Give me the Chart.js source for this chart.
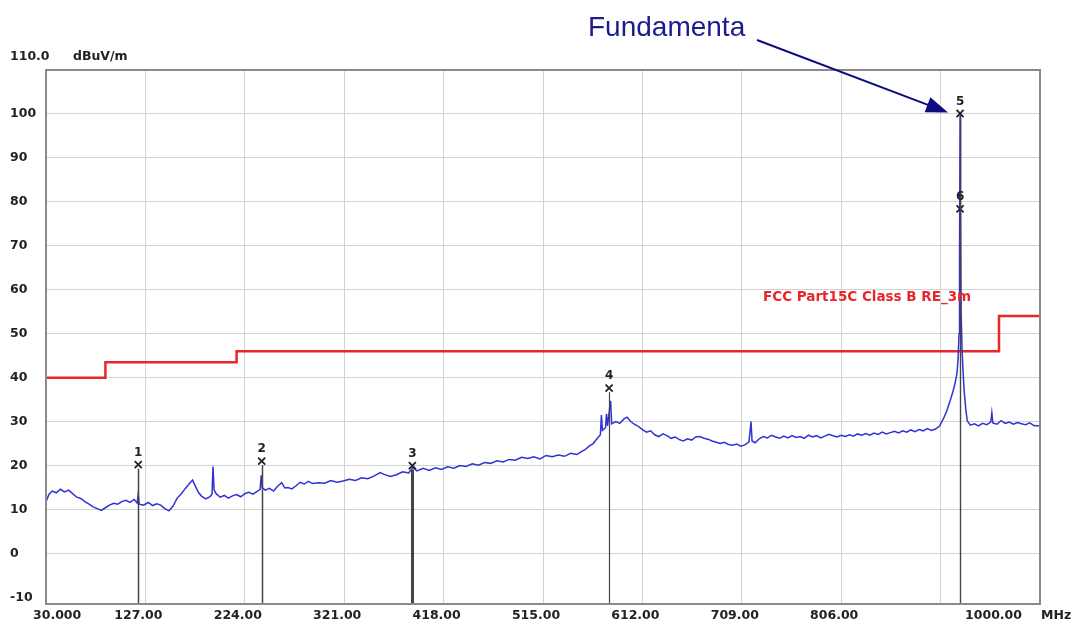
<!DOCTYPE html>
<html>
<head>
<meta charset="utf-8">
<script src="https://cdn.jsdelivr.net/npm/chart.js@4/dist/chart.umd.min.js"></script>
<style>
  html, body { margin: 0; padding: 0; background: #fff; }
  #wrap { width: 1073px; height: 621px; position: relative; }
</style>
</head>
<body>
<div id="wrap"><canvas id="emc"></canvas></div>
<script>
// frequentie-as en niveau-as
var xTicks = [30, 127, 224, 321, 418, 515, 612, 709, 806, 903, 1000];
var xTickLabels = ['30.000', '127.00', '224.00', '321.00', '418.00', '515.00', '612.00', '709.00', '806.00', '', '1000.00'];
var yTicks = [-10, 0, 10, 20, 30, 40, 50, 60, 70, 80, 90, 100];

// limietlijn FCC Part15C Class B
var limitFreq  = [30, 88, 88, 216, 216, 960, 960, 1000];
var limitLevel = [40, 40, 43.5, 43.5, 46, 46, 54, 54];

// gemeten spectrum (MHz / dBuV/m)
var traceFreq = [30, 33, 36, 40, 44, 48, 52, 56, 60, 64, 68, 72, 76, 80, 84, 88, 92, 96, 100, 104,
  108, 112, 116, 119, 120, 121, 125, 130, 134, 138, 142, 146, 150, 154, 158, 162, 166, 170, 173, 176,
  179, 182, 186, 190, 192, 193, 194, 196, 200, 204, 208, 212, 216, 220, 224, 228, 232, 236, 239, 240,
  241, 244, 248, 252, 256, 260, 263, 266, 270, 274, 278, 282, 286, 290, 296, 302, 308, 314, 320, 326,
  332, 338, 344, 350, 356, 360, 366, 372, 378, 384, 388, 392, 398, 404, 410, 416, 422, 428, 434, 440,
  446, 452, 458, 464, 470, 476, 482, 488, 494, 500, 506, 512, 518, 524, 530, 536, 542, 548, 552, 556,
  560, 564, 568, 571, 572, 573, 576, 577, 578, 580, 581, 582, 586, 590, 594, 597, 600, 604, 608, 612,
  616, 620, 624, 628, 632, 636, 640, 644, 648, 652, 656, 660, 664, 668, 672, 676, 680, 684, 688, 692,
  696, 700, 704, 708, 712, 716, 718, 719, 722, 726, 730, 734, 738, 742, 746, 750, 754, 758, 762, 766,
  770, 774, 778, 782, 786, 790, 794, 798, 802, 806, 810, 814, 818, 822, 826, 830, 834, 838, 842, 846,
  850, 854, 858, 862, 866, 870, 874, 878, 882, 886, 890, 894, 898, 902, 906, 909, 912, 915, 917, 919,
  920, 921, 921.5, 922, 922.5, 923, 924, 925, 926, 927.5, 929, 932, 936, 940, 944, 948, 952, 953, 954, 958,
  962, 966, 970, 974, 978, 982, 986, 990, 994, 1000];
var traceLevel = [11.8, 13.5, 14.2, 13.8, 14.6, 14.0, 14.4, 13.6, 12.8, 12.5, 11.8, 11.2, 10.6, 10.2, 9.8, 10.4, 11.0, 11.4, 11.2, 11.8,
  12.1, 11.6, 12.3, 11.5, 13.5, 11.2, 11.0, 11.6, 10.9, 11.3, 11.0, 10.2, 9.7, 10.8, 12.6, 13.6, 14.8, 15.9, 16.7, 15.2,
  13.8, 13.0, 12.4, 12.9, 13.5, 19.8, 14.5, 13.6, 12.8, 13.2, 12.6, 13.1, 13.4, 12.9, 13.6, 13.9, 13.5, 14.1, 14.6, 17.8,
  15.0, 14.4, 14.8, 14.2, 15.3, 16.1, 14.9, 15.0, 14.7, 15.4, 16.2, 15.8, 16.4, 15.9, 16.1, 16.0, 16.6, 16.2, 16.5, 16.9,
  16.6, 17.2, 17.0, 17.6, 18.4, 18.0, 17.5, 17.9, 18.6, 18.3, 19.6, 18.8, 19.4, 18.9, 19.5, 19.1, 19.7, 19.4, 20.0, 19.8,
  20.4, 20.1, 20.7, 20.5, 21.1, 20.8, 21.4, 21.2, 21.9, 21.6, 22.0, 21.5, 22.3, 22.0, 22.4, 22.1, 22.8, 22.5, 23.1, 23.6,
  24.4, 25.0, 26.2, 27.0, 31.5, 28.0, 28.6, 31.8, 29.0, 33.0, 34.7, 29.5, 30.0, 29.6, 30.6, 31.0, 30.2, 29.4, 28.9, 28.2,
  27.6, 27.9, 27.0, 26.6, 27.2, 26.8, 26.2, 26.5, 25.9, 25.6, 26.1, 25.8, 26.5, 26.6, 26.2, 26.0, 25.6, 25.3, 25.0, 25.3,
  24.8, 24.6, 24.9, 24.4, 24.7, 25.4, 30.0, 25.6, 25.2, 26.1, 26.6, 26.3, 26.9, 26.5, 26.2, 26.7, 26.3, 26.8, 26.4, 26.6,
  26.2, 26.9, 26.5, 26.8, 26.3, 26.7, 27.1, 26.8, 26.5, 26.9, 26.6, 27.0, 26.7, 27.2, 26.9, 27.3, 26.9, 27.4, 27.1, 27.6,
  27.2, 27.5, 27.8, 27.4, 27.9, 27.6, 28.1, 27.7, 28.2, 27.9, 28.4, 28.0, 28.3, 29.0, 30.8, 32.4, 34.5, 36.8, 38.6, 41.0,
  44.0, 50.0, 68.0, 100.0, 78.0, 55.0, 46.0, 41.0, 37.0, 33.0, 30.2, 29.2, 29.5, 29.0, 29.6, 29.3, 29.9, 32.0, 29.7, 29.4,
  30.2, 29.6, 29.9, 29.4, 29.8, 29.5, 29.3, 29.7, 29.1, 29.0];

// markers 1..6
var markerFreq  = [120, 240.5, 387.5, 579.5, 922, 922];
var markerLevel = [20.2, 21.0, 20.0, 37.6, 100.1, 78.4];
var markerNames = ['1', '2', '3', '4', '5', '6'];
var markerLineWidth = [1.5, 1.5, 3, 1.2, 1.2, 1.2];

var labelFont = 'bold 12.5px "DejaVu Sans", sans-serif';

function toPoints(xs, ys){
  var pts = [];
  xs.forEach(function(v, i){ pts.push({x: v, y: ys[i]}); });
  return pts;
}

/**
* Teken de extra's: kader, x-labels, markerlijnen, nummers, titel en pijl.
**/
var emcDecor = {
  id: 'emcDecor',
  afterDatasetsDraw: function(chart){
    var ctx = chart.ctx;
    var area = chart.chartArea;
    var xs = chart.scales.x;
    var ys = chart.scales.y;
    ctx.save();

    // markerlijnen naar de onderkant
    markerFreq.forEach(function(f, i){
      var px = Math.round(xs.getPixelForValue(f)) + 0.5;
      var py = ys.getPixelForValue(markerLevel[i]);
      ctx.strokeStyle = '#444';
      ctx.lineWidth = markerLineWidth[i];
      ctx.beginPath();
      ctx.moveTo(px, py + 4);
      ctx.lineTo(px, area.bottom);
      ctx.stroke();
    });

    // kader
    ctx.strokeStyle = '#8a8a8a';
    ctx.lineWidth = 2;
    ctx.strokeRect(area.left, area.top, area.right - area.left, area.bottom - area.top);
    ctx.restore();
  },
  afterDraw: function(chart){
    var ctx = chart.ctx;
    var area = chart.chartArea;
    var xs = chart.scales.x;
    var ys = chart.scales.y;
    ctx.save();

    // marker nummers
    ctx.fillStyle = '#222';
    ctx.font = 'bold 12px "DejaVu Sans", sans-serif';
    ctx.textAlign = 'center';
    ctx.textBaseline = 'middle';
    markerFreq.forEach(function(f, i){
      ctx.fillText(markerNames[i], xs.getPixelForValue(f), ys.getPixelForValue(markerLevel[i]) - 12);
    });

    // x-as labels
    ctx.font = labelFont;
    ctx.fillStyle = '#222';
    xTicks.forEach(function(v, i){
      var px = xs.getPixelForValue(v);
      if (i === 0) { ctx.textAlign = 'left'; px -= 13; }
      else if (i === xTicks.length - 1) { ctx.textAlign = 'right'; px -= 18; }
      else { ctx.textAlign = 'center'; px -= 7; }
      ctx.fillText(xTickLabels[i], px, area.bottom + 12);
    });
    ctx.textAlign = 'left';
    ctx.fillText('MHz', area.right + 1, area.bottom + 12);

    // y-as top en eenheid
    ctx.fillText('110.0', 10, area.top - 13);
    ctx.fillText('dBuV/m', 73, area.top - 13);

    // limiet legenda
    ctx.fillStyle = '#e8262b';
    ctx.font = 'bold 13.5px "DejaVu Sans", sans-serif';
    ctx.fillText('FCC Part15C Class B RE_3m', 763, ys.getPixelForValue(58.3));

    // annotatie
    ctx.fillStyle = '#1c1c8e';
    ctx.font = '28px "Liberation Sans", Arial, sans-serif';
    ctx.textBaseline = 'alphabetic';
    ctx.fillText('Fundamenta', 588, 36);

    var tipX = xs.getPixelForValue(markerFreq[4]) - 12;
    var tipY = ys.getPixelForValue(markerLevel[4]) - 1;
    var sx = 757, sy = 40;
    var ang = Math.atan2(tipY - sy, tipX - sx);
    ctx.strokeStyle = '#0c0c80';
    ctx.fillStyle = '#0c0c80';
    ctx.lineWidth = 2;
    ctx.beginPath();
    ctx.moveTo(sx, sy);
    ctx.lineTo(tipX - 18 * Math.cos(ang), tipY - 18 * Math.sin(ang));
    ctx.stroke();
    ctx.beginPath();
    ctx.moveTo(tipX, tipY);
    ctx.lineTo(tipX - 22 * Math.cos(ang) + 8 * Math.sin(ang), tipY - 22 * Math.sin(ang) - 8 * Math.cos(ang));
    ctx.lineTo(tipX - 22 * Math.cos(ang) - 8 * Math.sin(ang), tipY - 22 * Math.sin(ang) + 8 * Math.cos(ang));
    ctx.closePath();
    ctx.fill();
    ctx.restore();
  }
};

new Chart(document.getElementById('emc'), {
  type: 'line',
  data: {
    datasets: [{
      label: 'markers',
      data: toPoints(markerFreq, markerLevel),
      showLine: false,
      pointStyle: 'crossRot',
      pointRadius: 5,
      borderWidth: 1.8,
      borderColor: '#222',
      order: 0
    }, {
      label: 'trace',
      data: toPoints(traceFreq, traceLevel),
      borderColor: '#3232d2',
      borderWidth: 1.5,
      pointRadius: 0,
      fill: false,
      order: 1
    }, {
      label: 'FCC Part15C Class B RE_3m',
      data: toPoints(limitFreq, limitLevel),
      borderColor: '#e8262b',
      borderWidth: 2.5,
      pointRadius: 0,
      fill: false,
      order: 2
    }]
  },
  options: {
    responsive: true,
    maintainAspectRatio: false,
    animation: false,
    layout: { padding: { left: 10, right: 33, top: 70, bottom: 17 } },
    plugins: { legend: { display: false }, tooltip: { enabled: false } },
    scales: {
      x: {
        type: 'linear',
        min: 30,
        max: 1000,
        afterBuildTicks: function(scale){
          scale.ticks = xTicks.map(function(v){ return {value: v}; });
        },
        afterFit: function(scale){ scale.height = 0; },
        ticks: { display: false },
        grid: { color: '#d2d2d2', drawTicks: false },
        border: { display: false }
      },
      y: {
        min: -11.5,
        max: 110,
        afterBuildTicks: function(scale){
          scale.ticks = yTicks.map(function(v){ return {value: v}; });
        },
        afterFit: function(scale){ scale.width = 36; },
        ticks: {
          crossAlign: 'far',
          autoSkip: false,
          color: '#222',
          font: { family: '"DejaVu Sans", sans-serif', size: 12.5, weight: 'bold' }
        },
        grid: {
          drawTicks: false,
          color: function(c){ return c.tick && c.tick.value === -10 ? 'rgba(0,0,0,0)' : '#d2d2d2'; }
        },
        border: { display: false }
      }
    }
  },
  plugins: [emcDecor]
});
</script>
</body>
</html>
